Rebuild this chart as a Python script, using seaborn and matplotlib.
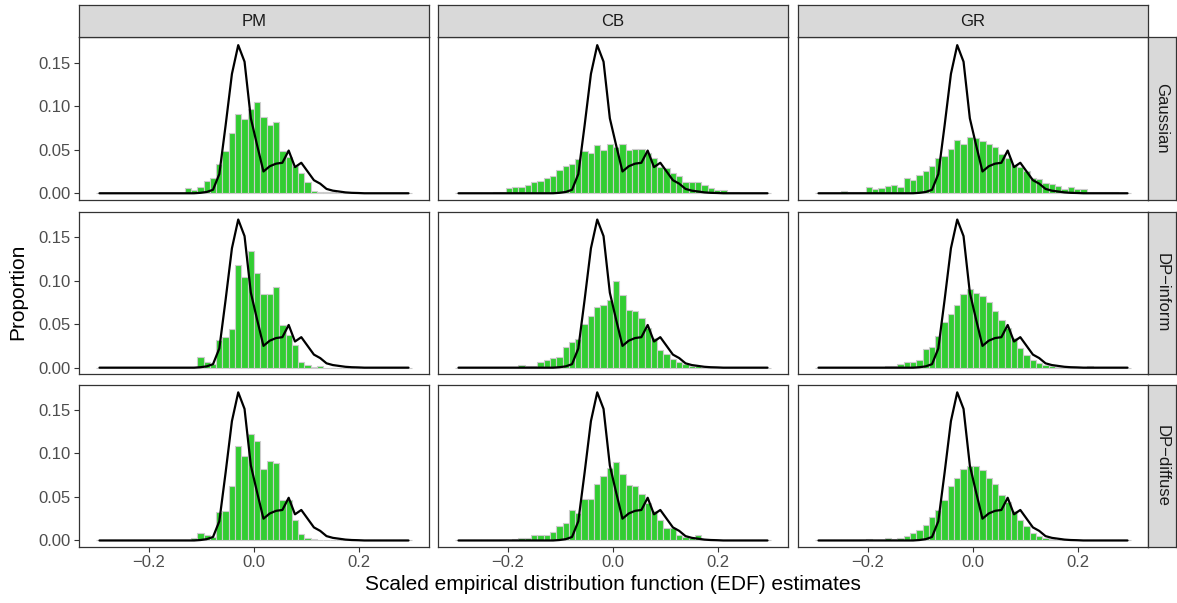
import numpy as np
import pandas as pd
import matplotlib
matplotlib.use("Agg")
import matplotlib.pyplot as plt
import seaborn as sns
from matplotlib.ticker import FuncFormatter, FixedLocator

# ---------------- data ----------------
bin_centers = np.round(-0.294 + 0.012 * np.arange(50), 6)

methods = ["PM", "CB", "GR"]
priors = ["Gaussian", "DP\u2212inform", "DP\u2212diffuse"]

# reference (true) distribution, black line
ref_line = [0, 0, 0, 0, 0, 0, 0, 0, 0, 0,
            0, 0, 0, 0, 0, 0, 0.0005, 0.0015, 0.004, 0.022,
            0.078, 0.137, 0.170, 0.151, 0.086, 0.055, 0.025, 0.031, 0.034, 0.035,
            0.049, 0.030, 0.035, 0.025, 0.015, 0.011, 0.005, 0.003, 0.002, 0.001,
            0.0005, 0.0003, 0, 0, 0, 0, 0, 0, 0, 0]

pm_gaussian = [0, 0, 0, 0, 0, 0, 0, 0, 0, 0,
               0, 0, 0, 0.0005, 0.0065, 0.004, 0.007, 0.014, 0.017, 0.034,
               0.048, 0.069, 0.091, 0.085, 0.097, 0.105, 0.088, 0.078, 0.082, 0.049,
               0.042, 0.031, 0.023, 0.013, 0.003, 0.002, 0.002, 0.001, 0.0005, 0,
               0, 0, 0, 0, 0, 0, 0, 0, 0, 0]
cb_gaussian = [0, 0, 0, 0, 0, 0.0005, 0.0015, 0.002, 0.006, 0.007,
               0.007, 0.010, 0.013, 0.0145, 0.017, 0.020, 0.027, 0.031, 0.034, 0.039,
               0.048, 0.046, 0.055, 0.050, 0.057, 0.053, 0.056, 0.050, 0.051, 0.051,
               0.046, 0.040, 0.030, 0.029, 0.023, 0.020, 0.013, 0.013, 0.013, 0.010,
               0.0065, 0.004, 0.004, 0.001, 0.001, 0.0005, 0.0005, 0, 0, 0]
gr_gaussian = [0, 0, 0, 0.0005, 0.0025, 0.001, 0.001, 0.0015, 0.007, 0.005,
               0.0065, 0.008, 0.010, 0.0075, 0.017, 0.015, 0.021, 0.026, 0.031, 0.041,
               0.043, 0.051, 0.061, 0.057, 0.065, 0.064, 0.060, 0.056, 0.053, 0.045,
               0.041, 0.032, 0.030, 0.025, 0.017, 0.016, 0.012, 0.011, 0.008, 0.0045,
               0.007, 0.005, 0.005, 0.002, 0.002, 0.0015, 0.001, 0.001, 0.0005, 0.0005]
pm_inform = [0, 0, 0, 0, 0, 0, 0, 0, 0, 0,
             0, 0, 0, 0, 0, 0, 0.012, 0.006, 0.004, 0.032,
             0.035, 0.044, 0.118, 0.104, 0.134, 0.109, 0.085, 0.085, 0.093, 0.049,
             0.037, 0.026, 0.0065, 0.0035, 0.001, 0.0015, 0, 0, 0, 0,
             0, 0, 0, 0, 0, 0, 0, 0, 0, 0]
cb_inform = [0, 0, 0, 0, 0, 0, 0, 0, 0, 0,
             0.0035, 0.002, 0.002, 0.006, 0.0085, 0.011, 0.012, 0.024, 0.029, 0.033,
             0.050, 0.059, 0.070, 0.072, 0.078, 0.099, 0.083, 0.066, 0.065, 0.057,
             0.045, 0.034, 0.020, 0.016, 0.010, 0.006, 0.004, 0.0023, 0.0015, 0.001,
             0.0005, 0, 0, 0, 0, 0, 0, 0, 0, 0]
gr_inform = [0, 0, 0, 0, 0, 0, 0, 0, 0, 0,
             0, 0.002, 0.002, 0.004, 0.006, 0.007, 0.009, 0.021, 0.024, 0.036,
             0.052, 0.062, 0.072, 0.085, 0.090, 0.086, 0.082, 0.075, 0.065, 0.055,
             0.045, 0.034, 0.023, 0.015, 0.009, 0.005, 0.0035, 0.002, 0.001, 0.001,
             0.001, 0.001, 0.001, 0.002, 0, 0, 0, 0, 0, 0]
pm_diffuse = [0, 0, 0, 0, 0, 0, 0, 0, 0, 0,
              0, 0, 0, 0, 0, 0.003, 0.009, 0.0065, 0.004, 0.033,
              0.034, 0.063, 0.108, 0.097, 0.122, 0.114, 0.082, 0.091, 0.089, 0.047,
              0.047, 0.023, 0.0077, 0.003, 0.002, 0.001, 0, 0, 0, 0,
              0, 0, 0, 0, 0, 0, 0, 0, 0, 0]
cb_diffuse = [0, 0, 0, 0, 0, 0, 0, 0, 0.0005, 0.0015,
              0.0025, 0.0025, 0.006, 0.006, 0.006, 0.0095, 0.0165, 0.020, 0.035, 0.032,
              0.048, 0.048, 0.065, 0.074, 0.083, 0.090, 0.076, 0.064, 0.063, 0.053,
              0.043, 0.034, 0.023, 0.014, 0.014, 0.0065, 0.004, 0.003, 0.0058, 0.001,
              0.002, 0, 0, 0, 0, 0, 0, 0, 0, 0]
gr_diffuse = [0, 0, 0, 0, 0, 0, 0, 0, 0.0015, 0,
              0, 0.0025, 0.0015, 0.0025, 0.0055, 0.008, 0.0115, 0.018, 0.0265, 0.035,
              0.047, 0.0625, 0.072, 0.082, 0.0855, 0.0855, 0.0805, 0.072, 0.065, 0.0525,
              0.044, 0.034, 0.024, 0.017, 0.009, 0.005, 0.003, 0.002, 0.001, 0.0005,
              0, 0, 0, 0, 0, 0, 0, 0, 0, 0]

panel_values = {
    ("Gaussian", "PM"): pm_gaussian, ("Gaussian", "CB"): cb_gaussian, ("Gaussian", "GR"): gr_gaussian,
    ("DP\u2212inform", "PM"): pm_inform, ("DP\u2212inform", "CB"): cb_inform, ("DP\u2212inform", "GR"): gr_inform,
    ("DP\u2212diffuse", "PM"): pm_diffuse, ("DP\u2212diffuse", "CB"): cb_diffuse, ("DP\u2212diffuse", "GR"): gr_diffuse,
}

x_ticks = [-0.2, 0.0, 0.2]
y_ticks = [0.00, 0.05, 0.10, 0.15]

# ---------------- style ----------------
sns.set_style("white")
plt.rcParams["font.family"] = ["Liberation Sans", "DejaVu Sans"]

W, H = 1177, 603
fig = plt.figure(figsize=(W / 100, H / 100), dpi=100)

def rect(l, t, w, h):
    return [l / W, 1 - (t + h) / H, w / W, h / H]

col_left = [79, 438, 798]
col_w = 350
row_top = [37.3, 211.7, 384.5]
row_h = 162.5
border = "#333333"
tick_col = "#4D4D4D"

minus_fmt = FuncFormatter(lambda v, p: ("%.1f" % v).replace("-", "\u2212"))
y_fmt = FuncFormatter(lambda v, p: "%.2f" % v)

for i, prior in enumerate(priors):
    for j, meth in enumerate(methods):
        ax = fig.add_axes(rect(col_left[j], row_top[i], col_w, row_h))
        df = pd.DataFrame({"x": bin_centers, "w": panel_values[(prior, meth)]})
        sns.histplot(data=df, x="x", weights="w", binwidth=0.012, binrange=(-0.30, 0.30),
                     stat="count", color="#32CD32", edgecolor="#CCCCCC", linewidth=0.8,
                     alpha=1, ax=ax)
        sns.lineplot(x=bin_centers, y=ref_line, color="black", linewidth=1.6, ax=ax)
        ax.set_xlim(-0.333, 0.333)
        ax.set_ylim(-0.0075, 0.179)
        ax.set_xlabel("")
        ax.set_ylabel("")
        for s in ax.spines.values():
            s.set_color(border)
            s.set_linewidth(0.9)
            s.set_visible(True)
        ax.xaxis.set_major_locator(FixedLocator(x_ticks))
        ax.yaxis.set_major_locator(FixedLocator(y_ticks))
        ax.xaxis.set_major_formatter(minus_fmt)
        ax.yaxis.set_major_formatter(y_fmt)
        ax.tick_params(axis="both", length=3.6, width=0.8, color=border,
                       labelcolor=tick_col, labelsize=12, pad=2.5)
        ax.tick_params(axis="both", which="both", bottom=(i == 2), labelbottom=(i == 2),
                       left=(j == 0), labelleft=(j == 0), top=False, right=False)
        ax.grid(False)

        # top strips
        if i == 0:
            sax = fig.add_axes(rect(col_left[j], 5, col_w, 32.3))
            sax.set_facecolor("#D9D9D9")
            sax.set_xticks([]); sax.set_yticks([])
            for s in sax.spines.values():
                s.set_color(border); s.set_linewidth(0.9)
            sax.text(0.5, 0.5, meth, ha="center", va="center", fontsize=12,
                     color="#1A1A1A", transform=sax.transAxes)
        # right strips
        if j == 2:
            rax = fig.add_axes(rect(col_left[j] + col_w, row_top[i], 28, row_h))
            rax.set_facecolor("#D9D9D9")
            rax.set_xticks([]); rax.set_yticks([])
            for s in rax.spines.values():
                s.set_color(border); s.set_linewidth(0.9)
            rax.text(0.5, 0.5, prior, ha="center", va="center", fontsize=12,
                     color="#1A1A1A", rotation=270, transform=rax.transAxes)

fig.text(18 / W, 1 - 292 / H, "Proportion", rotation=90, ha="center", va="center",
         fontsize=15, color="black")
fig.text(613 / W, 1 - 585 / H, "Scaled empirical distribution function (EDF) estimates",
         ha="center", va="center", fontsize=15, color="black")

fig.savefig("out.png", dpi=100, facecolor="white")
